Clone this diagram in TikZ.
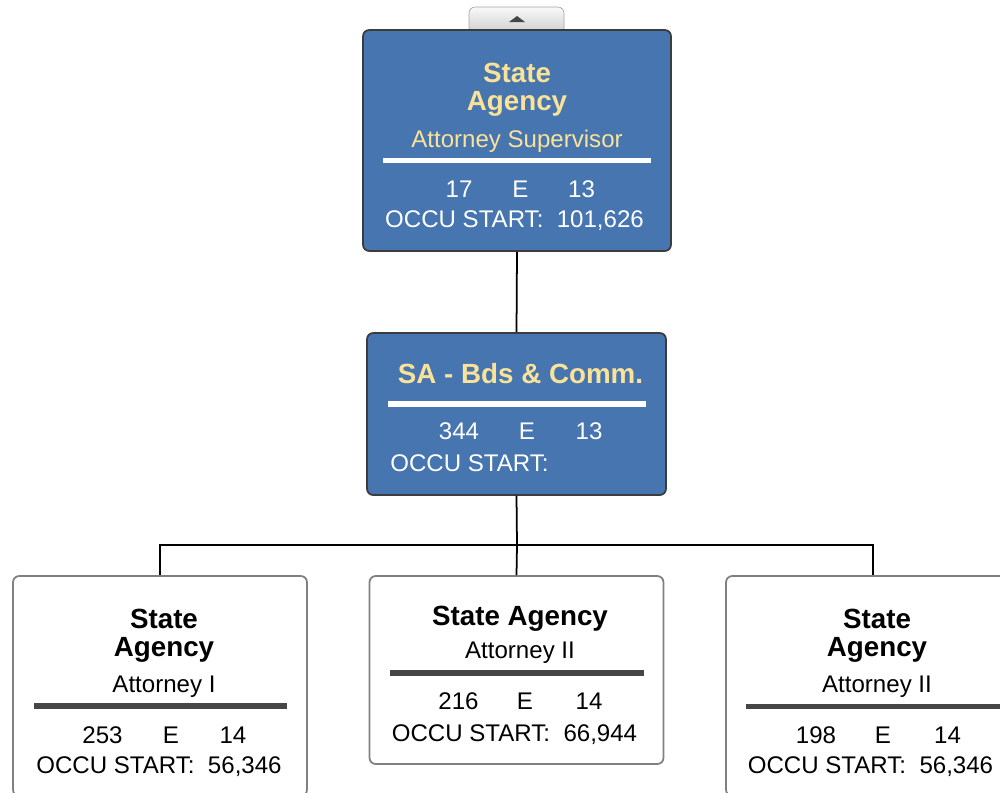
\documentclass[tikz,border=0pt]{standalone}
\usepackage{fontspec}
\setmainfont{Liberation Sans}
\usepackage{xcolor}

\definecolor{boxblue}{RGB}{70,117,176}
\definecolor{titleyellow}{RGB}{250,226,152}
\definecolor{rulegray}{RGB}{70,70,70}
\definecolor{edgegray}{RGB}{60,60,60}

\tikzset{
  bluebox/.style={draw=edgegray,line width=1pt,fill=boxblue,rounded corners=3.5pt,inner sep=0pt},
  whitebox/.style={draw=gray,line width=1pt,fill=white,rounded corners=3.5pt,inner sep=0pt},
  ytitle/.style={font=\fontsize{15.8}{16}\selectfont\bfseries,text=titleyellow,anchor=base,inner sep=0pt},
  btitle/.style={font=\fontsize{15.8}{16}\selectfont\bfseries,text=black,anchor=base,inner sep=0pt},
  wtxt/.style={font=\fontsize{13.7}{15}\selectfont,text=white,anchor=base,inner sep=0pt},
  ytxt/.style={font=\fontsize{13.7}{15}\selectfont,text=titleyellow,anchor=base,inner sep=0pt},
  btxt/.style={font=\fontsize{13.7}{15}\selectfont,text=black,anchor=base,inner sep=0pt},
  link/.style={draw=black,line width=1pt}
}

\begin{document}
\begin{tikzpicture}[x=0.02cm,y=-0.02cm]
    \useasboundingbox (0,0) rectangle (1000,792);
    \clip (0,0) rectangle (1000,792);
    % tab on top
    \draw[draw=gray!70,top color=gray!5,bottom color=gray!35,rounded corners=3.5pt]
        (469,31) -- (469,7) -- (564,7) -- (564,31);
    \fill[rulegray] (509,22) -- (525,22) -- (517,16) -- cycle;
    % boxes
    \node[bluebox,minimum width=6.16cm,minimum height=4.42cm] (top) at (517,140.5) {};
    \node[bluebox,minimum width=5.98cm,minimum height=3.24cm] (sa) at (516.5,414) {};
    \node[whitebox,minimum width=5.88cm,minimum height=4.4cm] (att1) at (160,686) {};
    \node[whitebox,minimum width=5.88cm,minimum height=3.76cm] (att2) at (516.5,670) {};
    \node[whitebox,minimum width=5.88cm,minimum height=4.4cm] (att3) at (873,686) {};
    % connectors
    \coordinate (bus) at (517,545);
    \draw[link] (top.south) -- (sa.north);
    \draw[link] (sa.south) -- (bus);
    \draw[link] (bus) -| (att1.north);
    \draw[link] (bus) -| (att3.north);
    \draw[link] (bus) -- (att2.north);
    % top box
    \node[ytitle] (t1) at (517,82) {State};
    \node[ytitle] (t2) at (517,110) {Agency};
    \node[ytxt] (t3) at (517,147) {Attorney Supervisor};
    \draw[white,line width=2.8pt] (383,160.5) -- (651,160.5);
    \node[wtxt] (t4) at (459,197) {17};
    \node[wtxt] (t5) at (520.5,197) {E};
    \node[wtxt] (t6) at (581.5,197) {13};
    \node[wtxt] (t7) at (514.5,227) {OCCU START:~~101,626};
    % SA box
    \node[ytitle] (s1) at (520.5,383) {SA - Bds \& Comm.};
    \draw[white,line width=3.2pt] (388,404) -- (646,404);
    \node[wtxt] (s2) at (459,439) {344};
    \node[wtxt] (s3) at (527,439) {E};
    \node[wtxt] (s4) at (589,439) {13};
    \node[wtxt,anchor=base west] (s5) at (390,471) {OCCU START:};
    % Attorney I
    \node[btitle] (a1) at (164,628) {State};
    \node[btitle] (a2) at (164,656) {Agency};
    \node[btxt] (a3) at (164,692) {Attorney I};
    \draw[rulegray,line width=3.2pt] (34,706) -- (287,706);
    \node[btxt] (a4) at (102.5,743) {253};
    \node[btxt] (a5) at (171,743) {E};
    \node[btxt] (a6) at (233,743) {14};
    \node[btxt] (a7) at (159,773) {OCCU START:~~56,346};
    % Attorney II, middle
    \node[btitle] (b1) at (520,625) {State Agency};
    \node[btxt] (b2) at (520,658) {Attorney II};
    \draw[rulegray,line width=3.2pt] (390,673) -- (644,673);
    \node[btxt] (b3) at (458.5,709) {216};
    \node[btxt] (b4) at (525,709) {E};
    \node[btxt] (b5) at (589,709) {14};
    \node[btxt] (b6) at (514.5,741) {OCCU START:~~66,944};
    % Attorney II, right
    \node[btitle] (c1) at (877,628) {State};
    \node[btitle] (c2) at (877,656) {Agency};
    \node[btxt] (c3) at (877,692) {Attorney II};
    \draw[rulegray,line width=3.2pt] (746,706.5) -- (1000,706.5);
    \node[btxt] (c4) at (816,743) {198};
    \node[btxt] (c5) at (883,743) {E};
    \node[btxt] (c6) at (947.5,743) {14};
    \node[btxt] (c7) at (870.5,773) {OCCU START:~~56,346};
\end{tikzpicture}
\end{document}
